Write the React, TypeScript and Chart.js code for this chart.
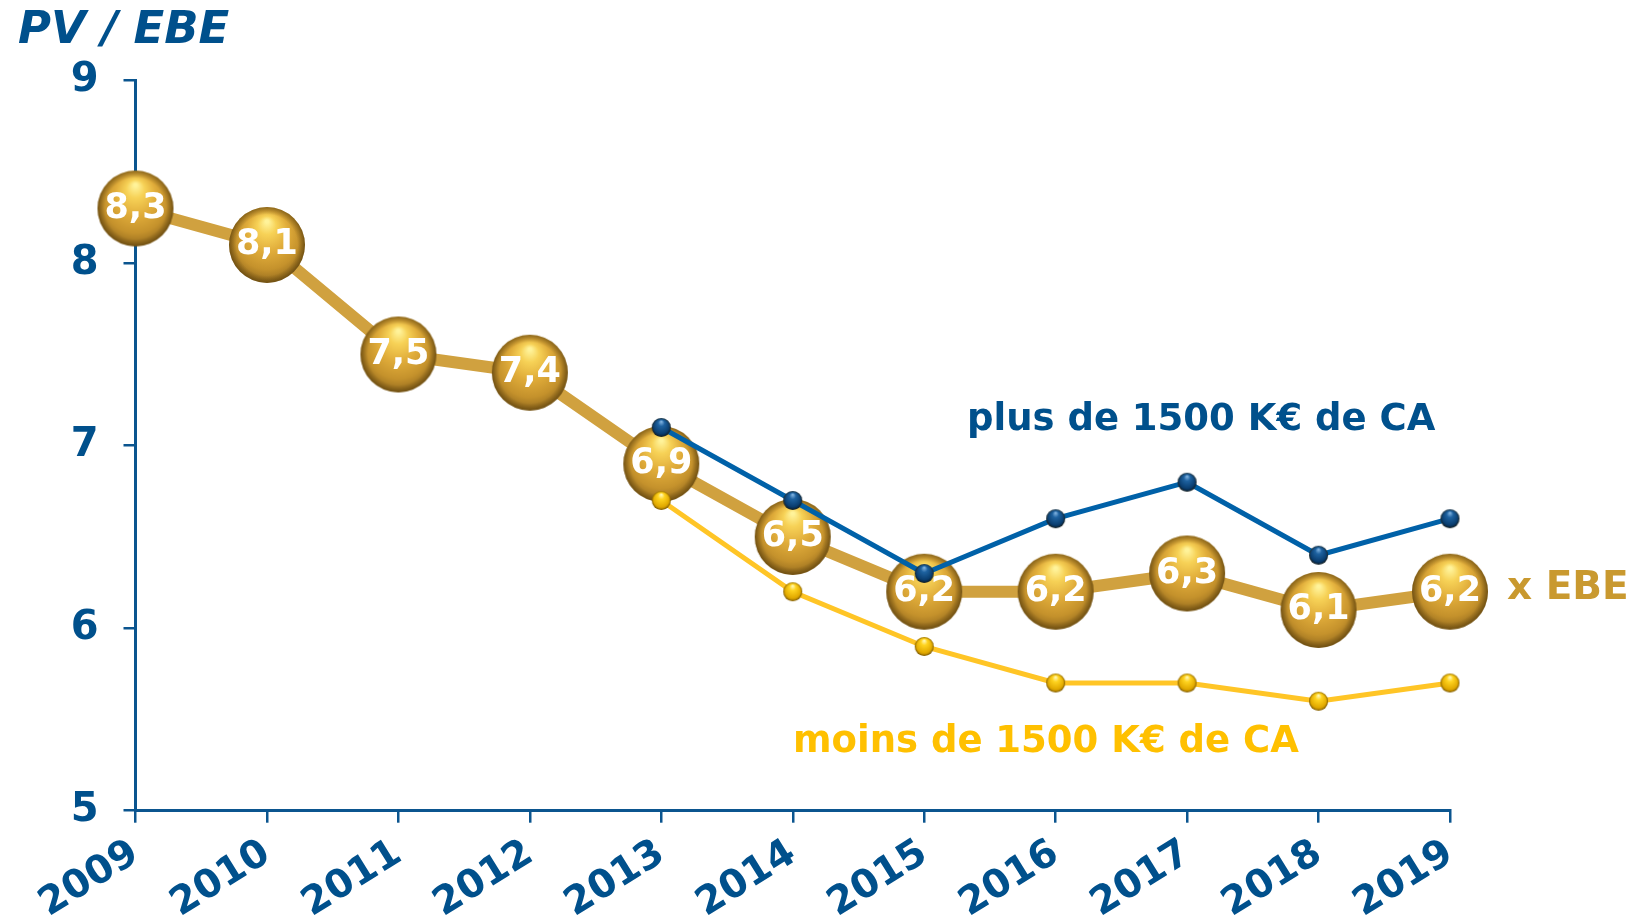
import React, { useEffect, useRef } from "react";
import { Chart, registerables } from "chart.js";

Chart.register(...registerables);

const years = ["2009", "2010", "2011", "2012", "2013", "2014", "2015", "2016", "2017", "2018", "2019"];
const ebe = [8.3, 8.1, 7.5, 7.4, 6.9, 6.5, 6.2, 6.2, 6.3, 6.1, 6.2];
const plus1500 = [null, null, null, null, 7.1, 6.7, 6.3, 6.6, 6.8, 6.4, 6.6];
const moins1500 = [null, null, null, null, 6.7, 6.2, 5.9, 5.7, 5.7, 5.6, 5.7];
const yTicks = [5, 6, 7, 8, 9];

const titleText = "PV / EBE";
const ebeLabel = "x EBE";
const plusLabel = "plus de 1500 K€ de CA";
const moinsLabel = "moins de 1500 K€ de CA";

const BLUE = "#00508C";
const AXIS = "#0B558F";
const GOLD_LINE = "#D0A13F";
const GOLD_TEXT = "#C9992F";
const BLUE_LINE = "#0061A8";
const YELLOW_LINE = "#FFC526";
const YELLOW_TEXT = "#FFC000";
const FONT = "'DejaVu Sans', Verdana, sans-serif";

function makeSphere(r: number, stops: [number, string][]): HTMLCanvasElement {
  const pad = 2;
  const size = Math.ceil(r * 2 + pad * 2);
  const c = document.createElement("canvas");
  c.width = size;
  c.height = size;
  const ctx = c.getContext("2d")!;
  const cx = size / 2;
  const cy = size / 2;
  const g = ctx.createRadialGradient(cx, cy - r * 0.62, r * 0.04, cx, cy - r * 0.1, r * 1.05);
  stops.forEach(([o, col]) => g.addColorStop(o, col));
  ctx.beginPath();
  ctx.arc(cx, cy, r, 0, Math.PI * 2);
  ctx.fillStyle = g;
  ctx.fill();
  // dark rim
  const g3 = ctx.createRadialGradient(cx, cy, r * 0.8, cx, cy, r);
  g3.addColorStop(0, "rgba(60,40,0,0)");
  g3.addColorStop(1, "rgba(60,40,0,0.45)");
  ctx.fillStyle = g3;
  ctx.beginPath();
  ctx.arc(cx, cy, r, 0, Math.PI * 2);
  ctx.fill();
  return c;
}

export default function App() {
  const ref = useRef<HTMLCanvasElement>(null);

  useEffect(() => {
    if (!ref.current) return;
    const goldSphere = makeSphere(38, [
      [0, "#FFF39A"],
      [0.2, "#F7D257"],
      [0.5, "#E0AC3A"],
      [0.8, "#C5922C"],
      [1, "#9A7020"],
    ]);
    const blueSphere = makeSphere(9.5, [
      [0, "#7FB2E0"],
      [0.3, "#1E62A0"],
      [0.8, "#0A3E70"],
      [1, "#03213E"],
    ]);
    const yellowSphere = makeSphere(9.5, [
      [0, "#FFF9B8"],
      [0.3, "#FFD420"],
      [0.8, "#E2AA00"],
      [1, "#B08000"],
    ]);

    const textPlugin = {
      id: "texts",
      afterDatasetDraw(chart: any, args: any) {
        if (args.index !== 0) return;
        const ctx = chart.ctx;
        const meta = chart.getDatasetMeta(0);
        ctx.save();
        ctx.fillStyle = "#FFFFFF";
        ctx.font = `bold 35px ${FONT}`;
        ctx.textAlign = "center";
        ctx.textBaseline = "middle";
        meta.data.forEach((pt: any, i: number) => {
          const v = ebe[i];
          ctx.fillText(v.toFixed(1).replace(".", ","), pt.x, pt.y);
        });
        ctx.restore();
      },
      afterDraw(chart: any) {
        const ctx = chart.ctx;
        ctx.save();
        ctx.textAlign = "left";
        ctx.textBaseline = "alphabetic";
        ctx.fillStyle = BLUE;
        ctx.font = `italic bold 45px ${FONT}`;
        ctx.fillText(titleText, 18, 43);
        ctx.font = `bold 37px ${FONT}`;
        ctx.fillStyle = BLUE;
        ctx.fillText(plusLabel, 967, 430);
        ctx.fillStyle = YELLOW_TEXT;
        ctx.fillText(moinsLabel, 793, 752);
        ctx.font = `bold 39px ${FONT}`;
        ctx.fillStyle = GOLD_TEXT;
        ctx.fillText(ebeLabel, 1507, 599);
        ctx.restore();
      },
    };

    const chart = new Chart(ref.current, {
      type: "line",
      data: {
        labels: years,
        datasets: [
          {
            label: ebeLabel,
            data: ebe,
            borderColor: GOLD_LINE,
            borderWidth: 12,
            pointStyle: goldSphere as any,
            pointRadius: 38,
            tension: 0,
            clip: false as any,
            order: 3,
          },
          {
            label: moinsLabel,
            data: moins1500 as any,
            borderColor: YELLOW_LINE,
            borderWidth: 5,
            pointStyle: yellowSphere as any,
            pointRadius: 10,
            tension: 0,
            clip: false as any,
            order: 2,
          },
          {
            label: plusLabel,
            data: plus1500 as any,
            borderColor: BLUE_LINE,
            borderWidth: 5,
            pointStyle: blueSphere as any,
            pointRadius: 10,
            tension: 0,
            clip: false as any,
            order: 1,
          },
        ],
      },
      options: {
        animation: false,
        responsive: true,
        maintainAspectRatio: false,
        layout: { padding: { top: 80.7, right: 193, left: 0, bottom: 0 } },
        plugins: {
          legend: { display: false },
          tooltip: { enabled: false },
          title: { display: false },
        },
        scales: {
          x: {
            type: "category",
            offset: false,
            grid: {
              display: true,
              drawOnChartArea: false,
              drawTicks: true,
              tickLength: 12,
              color: AXIS,
              lineWidth: 2.5,
            },
            border: { display: true, color: AXIS, width: 3 },
            ticks: {
              color: BLUE,
              font: { family: FONT, size: 39, weight: "bold" },
              minRotation: 32,
              maxRotation: 32,
              padding: 8,
              autoSkip: false,
            },
            afterFit(scale: any) {
              scale.height = 112.3;
            },
          },
          y: {
            type: "linear",
            min: 5,
            max: 9,
            afterBuildTicks(scale: any) {
              scale.ticks = yTicks.map((v) => ({ value: v }));
            },
            grid: {
              display: true,
              drawOnChartArea: false,
              drawTicks: true,
              tickLength: 12,
              color: AXIS,
              lineWidth: 2.5,
            },
            border: { display: true, color: AXIS, width: 3 },
            ticks: {
              color: BLUE,
              font: { family: FONT, size: 40, weight: "bold" },
              padding: 25,
            },
            afterFit(scale: any) {
              scale.width = 135.5;
            },
          },
        },
      },
      plugins: [textPlugin],
    });
    return () => chart.destroy();
  }, []);

  return (
    <div style={{ position: "absolute", left: 0, top: 0, width: 1643, height: 923, background: "#FFFFFF" }}>
      <canvas ref={ref} />
    </div>
  );
}
